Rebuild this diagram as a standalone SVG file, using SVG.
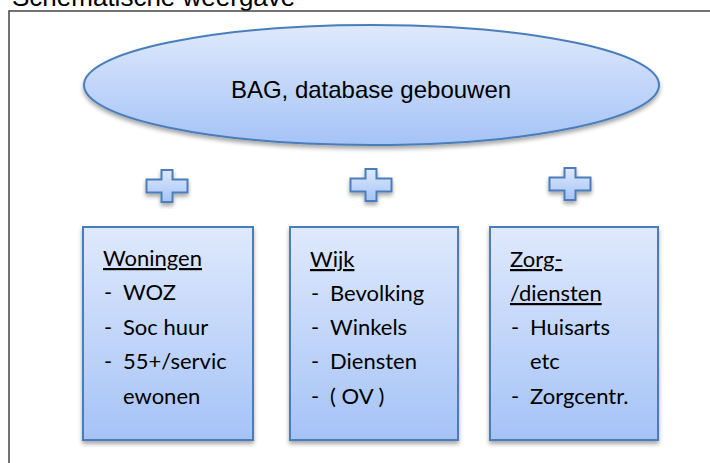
<svg xmlns="http://www.w3.org/2000/svg" width="710" height="463" viewBox="0 0 710 463">
<defs>
<linearGradient id="g" x1="0" y1="0" x2="0" y2="1">
<stop offset="0" stop-color="#dfe9fc"/>
<stop offset="1" stop-color="#a5c3f7"/>
</linearGradient>
<filter id="sh" x="-10%" y="-10%" width="120%" height="130%">
<feDropShadow dx="0" dy="3" stdDeviation="2" flood-color="#000" flood-opacity="0.35"/>
</filter>
<path id="plus" d="M-5.5,-16 H5.5 V-6.5 H20.5 V6.5 H5.5 V16 H-5.5 V6.5 H-20.5 V-6.5 H-5.5 Z"/>
</defs>
<style>
.shape{fill:url(#g);stroke:#4a7ebb;stroke-width:2;filter:url(#sh)}
.t{font-family:Lato,"Open Sans","Liberation Sans",sans-serif;font-size:22px;fill:#000}
.h{text-decoration:underline}
</style>
<rect width="710" height="463" fill="#fff"/>
<text x="12" y="6" font-family="'Liberation Sans',Arial,sans-serif" font-size="26" fill="#000">Schematische weergave</text>
<path d="M9,463 V11 H710" fill="none" stroke="#444" stroke-width="1.5"/>
<g id="bag">
<ellipse class="shape" cx="371.5" cy="85" rx="287.5" ry="60"/>
<text x="371" y="98" text-anchor="middle" font-family="'Liberation Sans',Arial,sans-serif" font-size="24">BAG, database gebouwen</text>
</g>
<g id="connectors">
<use href="#plus" class="shape" x="167" y="186"/>
<use href="#plus" class="shape" x="371" y="185"/>
<use href="#plus" class="shape" x="570" y="184"/>
</g>
<g id="woningen">
<rect class="shape" x="83" y="227" width="170" height="213"/>
<text class="t h" x="103" y="266">Woningen</text>
<text class="t" x="104" y="300">-</text><text class="t" x="123" y="300">WOZ</text>
<text class="t" x="104" y="335">-</text><text class="t" x="123" y="335">Soc huur</text>
<text class="t" x="104" y="369">-</text><text class="t" x="123" y="369">55+/servic</text>
<text class="t" x="123" y="404">ewonen</text>
</g>
<g id="wijk">
<rect class="shape" x="290" y="227" width="168" height="213"/>
<text class="t h" x="310" y="267">Wijk</text>
<text class="t" x="311" y="301">-</text><text class="t" x="330" y="301">Bevolking</text>
<text class="t" x="311" y="335">-</text><text class="t" x="330" y="335">Winkels</text>
<text class="t" x="311" y="369">-</text><text class="t" x="330" y="369">Diensten</text>
<text class="t" x="311" y="404">-</text><text class="t" x="330" y="404">( OV )</text>
</g>
<g id="zorg">
<rect class="shape" x="490" y="227" width="168" height="213"/>
<text class="t h" x="510" y="267">Zorg-</text>
<text class="t h" x="510" y="301">/diensten</text>
<text class="t" x="511" y="335">-</text><text class="t" x="530" y="335">Huisarts</text>
<text class="t" x="530" y="369">etc</text>
<text class="t" x="511" y="404">-</text><text class="t" x="530" y="404">Zorgcentr.</text>
</g>
</svg>
